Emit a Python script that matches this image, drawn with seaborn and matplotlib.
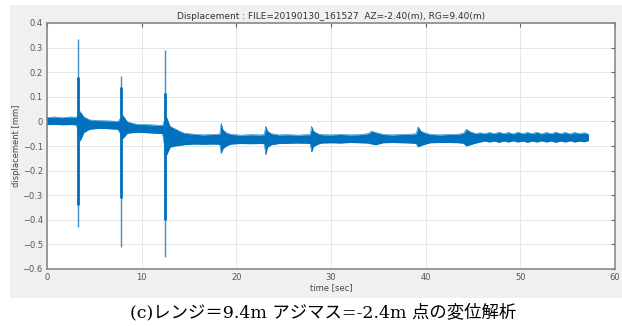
import numpy as np
import pandas as pd
import matplotlib
matplotlib.use("Agg")
import matplotlib.pyplot as plt
import seaborn as sns
from matplotlib.patches import Rectangle

# noise band envelope (time [sec], upper / lower displacement [mm])
band_t = [0.0, 0.8, 1.6, 2.4, 3.1, 3.5, 3.9, 4.5, 5.5, 6.5, 7.5,
          8.0, 8.5, 9.5, 10.5, 11.5, 12.2, 12.6, 13.0, 13.5, 14.0, 14.5,
          15.5, 16.5, 17.5, 18.25, 18.4, 18.6, 19.0, 19.5, 20.5, 21.5, 22.5,
          22.95, 23.1, 23.3, 23.7, 24.5, 25.5, 26.5, 27.5, 27.8, 27.95, 28.15,
          28.6, 29.0, 30.0, 31.0, 32.0, 33.0, 33.9, 34.3, 34.7, 35.5,
          36.5, 37.5, 38.5, 39.0, 39.2, 39.5, 40.0, 40.5, 41.5, 42.5, 43.5,
          44.0, 44.3, 44.7, 45.3,
          45.75, 46.25, 46.75, 47.25, 47.75, 48.25, 48.75, 49.25, 49.75, 50.25,
          50.75, 51.25, 51.75, 52.25, 52.75, 53.25, 53.75, 54.25, 54.75, 55.25,
          55.75, 56.25, 56.75, 57.2]
band_hi = [0.016, 0.018, 0.015, 0.018, 0.017, 0.040, 0.018, 0.006, 0.003, 0.002, 0.000,
           0.025, -0.002, -0.012, -0.013, -0.015, -0.016, 0.020, -0.020, -0.030, -0.040, -0.048,
           -0.052, -0.055, -0.053, -0.052, -0.008, -0.035, -0.048, -0.053, -0.056, -0.054, -0.055,
           -0.054, -0.020, -0.040, -0.050, -0.055, -0.054, -0.056, -0.054, -0.054, -0.020, -0.040,
           -0.050, -0.054, -0.055, -0.053, -0.055, -0.054, -0.050, -0.040, -0.045, -0.053,
           -0.055, -0.053, -0.052, -0.050, -0.022, -0.040, -0.048, -0.053, -0.055, -0.053, -0.052,
           -0.048, -0.032, -0.042, -0.050,
           -0.046, -0.050, -0.045, -0.050, -0.044, -0.050, -0.045, -0.051, -0.044, -0.050,
           -0.045, -0.050, -0.044, -0.051, -0.045, -0.050, -0.044, -0.050, -0.045, -0.051,
           -0.045, -0.050, -0.046, -0.052]
band_lo = [-0.013, -0.012, -0.014, -0.013, -0.014, -0.080, -0.045, -0.032, -0.028, -0.030, -0.032,
           -0.070, -0.048, -0.044, -0.046, -0.048, -0.050, -0.140, -0.105, -0.100, -0.098, -0.095,
           -0.092, -0.093, -0.092, -0.093, -0.130, -0.110, -0.098, -0.092, -0.090, -0.091, -0.090,
           -0.091, -0.135, -0.105, -0.095, -0.090, -0.089, -0.088, -0.089, -0.090, -0.125, -0.102,
           -0.093, -0.088, -0.087, -0.088, -0.086, -0.087, -0.088, -0.092, -0.095, -0.087,
           -0.086, -0.087, -0.088, -0.090, -0.104, -0.098, -0.092, -0.087, -0.086, -0.086, -0.087,
           -0.089, -0.100, -0.095, -0.088,
           -0.084, -0.080, -0.084, -0.080, -0.085, -0.080, -0.084, -0.079, -0.084, -0.080,
           -0.085, -0.080, -0.084, -0.079, -0.084, -0.080, -0.085, -0.080, -0.084, -0.079,
           -0.084, -0.080, -0.083, -0.078]

# impact spikes: full extent and the dense core part
spike_t = [3.3, 7.85, 12.45]
spike_top = [0.335, 0.185, 0.292]
spike_bottom = [-0.43, -0.51, -0.55]
core_top = [0.18, 0.14, 0.115]
core_bottom = [-0.34, -0.31, -0.40]

x_ticks = [0, 10, 20, 30, 40, 50, 60]
y_ticks = [-0.6, -0.5, -0.4, -0.3, -0.2, -0.1, 0, 0.1, 0.2, 0.3, 0.4]

title = "Displacement : FILE=20190130_161527  AZ=-2.40(m), RG=9.40(m)"
caption = "(c)レンジ＝9.4m アジマス=-2.4m 点の変位解析"

LINE = "#0072BD"

sns.set_theme(style="whitegrid")
plt.rcParams["font.family"] = ["DejaVu Sans", "Noto Sans CJK JP"]

df = pd.DataFrame({"time": band_t, "hi": band_hi, "lo": band_lo})

fig = plt.figure(figsize=(6.22, 3.26), dpi=100, facecolor="white")
# matlab figure window background
fig.patches.append(Rectangle((10 / 622, 28 / 326), 612 / 622, 293 / 326,
                             transform=fig.transFigure, facecolor="#f0f0f0",
                             edgecolor="none", zorder=-10))
ax = fig.add_axes([47 / 622, 57 / 326, 568 / 622, 246 / 326])
ax.set_zorder(1)
ax.set_facecolor("white")

ax.fill_between(df["time"], df["lo"], df["hi"], color=LINE, lw=0, zorder=3)
sns.lineplot(data=df, x="time", y="hi", color=LINE, lw=0.4, ax=ax, zorder=3)
sns.lineplot(data=df, x="time", y="lo", color=LINE, lw=0.4, ax=ax, zorder=3)
ax.vlines(spike_t, spike_bottom, spike_top, color="#3d8fd0", lw=1.0, zorder=4)
ax.vlines(spike_t, core_bottom, core_top, color=LINE, lw=2.0, zorder=4)

ax.set_xlim(0, 60)
ax.set_ylim(-0.6, 0.4)
ax.set_xticks(x_ticks)
ax.set_yticks(y_ticks)
ax.set_xticklabels([str(v) for v in x_ticks])
ax.set_yticklabels(["0" if v == 0 else f"{v:.1f}".replace("-", "\u2212") for v in y_ticks])
ax.grid(True, color="#e3e3e3", lw=0.6)
ax.tick_params(direction="in", length=3, width=0.8, color="#606060",
               labelsize=6, labelcolor="#555555", top=True, right=True,
               labeltop=False, labelright=False, pad=3)
for s in ax.spines.values():
    s.set_color("#8a8a8a")
    s.set_linewidth(1.2)

ax.set_title(title, fontsize=6.5, color="#333333", pad=3)
ax.set_xlabel("time [sec]", fontsize=6, color="#444444", labelpad=1)
ax.set_ylabel("displacement [mm]", fontsize=6, color="#444444", labelpad=1)

fig.text(323 / 622, 13 / 326, caption, ha="center", va="center", fontsize=12.5,
         color="black", family=["DejaVu Serif", "Noto Sans CJK JP"])

fig.savefig("out.png", dpi=100, facecolor="white")
